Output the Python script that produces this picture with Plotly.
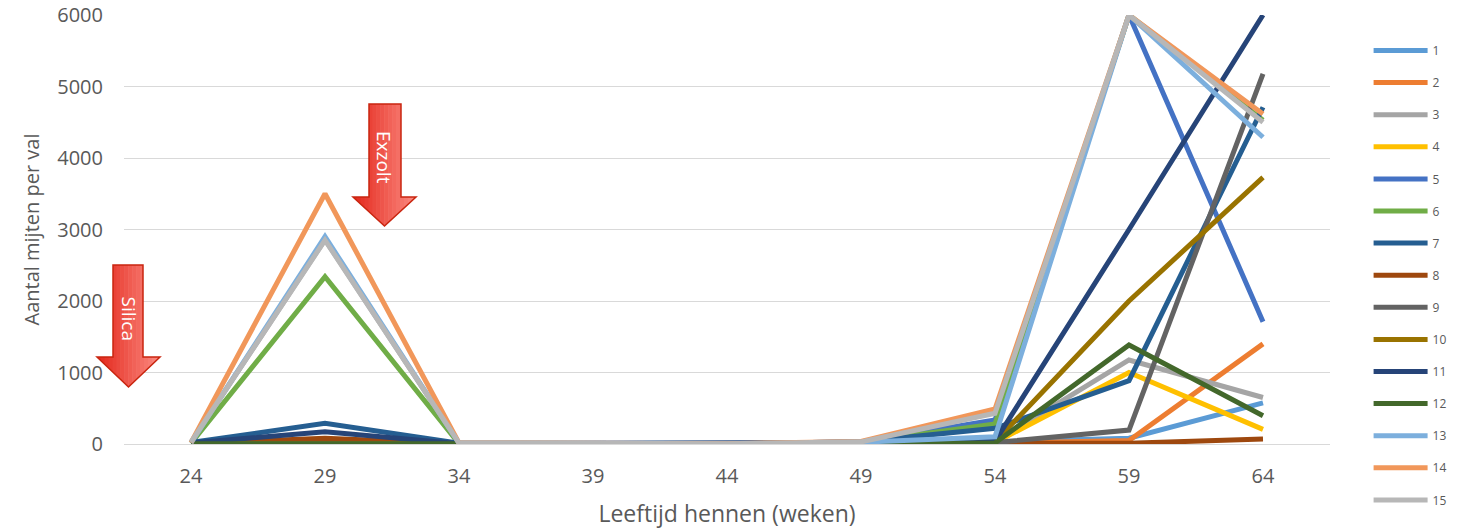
import plotly.graph_objects as go

# Leeftijd van de hennen (weken) op de x-as
weeks = ["24", "29", "34", "39", "44", "49", "54", "59", "64"]

# Aantal mijten per val, per val (reeks 1..15)
s1 = [10, 20, 5, 5, 5, 10, 30, 80, 575]
s2 = [5, 40, 5, 5, 5, 5, 10, 50, 1400]
s3 = [20, 2860, 10, 5, 5, 20, 30, 1175, 650]
s4 = [5, 10, 5, 5, 5, 10, 20, 1000, 205]
s5 = [10, 30, 5, 5, 5, 30, 335, 6000, 1710]
s6 = [10, 2340, 5, 5, 5, 25, 280, 6000, 4530]
s7 = [20, 290, 10, 5, 5, 30, 220, 885, 4710]
s8 = [5, 80, 5, 5, 5, 5, 10, 10, 70]
s9 = [5, 10, 5, 5, 5, 10, 20, 195, 5175]
s10 = [5, 10, 5, 5, 5, 10, 30, 2000, 3730]
s11 = [15, 170, 5, 5, 5, 20, 40, 3000, 6000]
s12 = [5, 10, 5, 5, 5, 10, 15, 1385, 395]
s13 = [15, 2900, 10, 5, 5, 25, 100, 6000, 4290]
s14 = [20, 3500, 15, 5, 5, 35, 490, 6000, 4615]
s15 = [25, 2850, 15, 5, 5, 30, 430, 6000, 4500]

series_names = [str(i) for i in range(1, 16)]
series_values = [s1, s2, s3, s4, s5, s6, s7, s8, s9, s10, s11, s12, s13, s14, s15]
colors = ["#5B9BD5", "#ED7D31", "#A5A5A5", "#FFC000", "#4472C4", "#70AD47",
          "#255E91", "#9E480E", "#636363", "#997300", "#264478", "#43682B",
          "#7CAFDD", "#F1975A", "#B7B7B7"]

# Behandelingen (pijl-annotaties)
treatments = ["Silica", "Exzolt"]

W, H = 1468, 531
PL, PR, PT, PB = 124, 1330, 15, 444  # plot area in pixels

fig = go.Figure()
for name, vals, col in zip(series_names, series_values, colors):
    fig.add_trace(go.Scatter(
        x=weeks, y=vals, name=name, mode="lines",
        line=dict(color=col, width=5),
        legendgroup=name,
    ))


def to_paper(x, y):
    return (x - PL) / (PR - PL), (PB - y) / (PB - PT)


def clip_slab(poly, xa, xb):
    """Clip a polygon to the vertical slab xa <= x <= xb."""
    def clip(pts, keep, xc):
        out = []
        n = len(pts)
        for i in range(n):
            p, q = pts[i], pts[(i + 1) % n]
            pin, qin = keep(p[0]), keep(q[0])
            if pin:
                out.append(p)
            if pin != qin:
                t = (xc - p[0]) / (q[0] - p[0])
                out.append((xc, p[1] + t * (q[1] - p[1])))
        return out
    pts = clip(poly, lambda x: x >= xa, xa)
    if pts:
        pts = clip(pts, lambda x: x <= xb, xb)
    return pts


def lerp_color(c0, c1, t):
    a = [int(c0[i:i + 2], 16) for i in (1, 3, 5)]
    b = [int(c1[i:i + 2], 16) for i in (1, 3, 5)]
    return "rgb(%d,%d,%d)" % tuple(round(a[k] + (b[k] - a[k]) * t) for k in range(3))


def path_of(pts):
    pp = [to_paper(x, y) for x, y in pts]
    return "M " + " L ".join("%.5f,%.5f" % p for p in pp) + " Z"


def add_arrow(bx0, bx1, top, neck, hx0, hx1, tip, label):
    cx = (hx0 + hx1) / 2
    poly = [(bx0, top), (bx1, top), (bx1, neck), (hx1, neck), (cx, tip),
            (hx0, neck), (bx0, neck)]
    n = 16
    for i in range(n):
        xa = hx0 + (hx1 - hx0) * i / n
        xb = hx0 + (hx1 - hx0) * (i + 1) / n
        piece = clip_slab(poly, xa - 0.3, xb + 0.3)
        if len(piece) < 3:
            continue
        c = lerp_color("#E3261A", "#FB8B82", (i + 0.5) / n)
        fig.add_shape(type="path", path=path_of(piece), xref="paper", yref="paper",
                      fillcolor=c, line=dict(width=0), layer="above")
    fig.add_shape(type="path", path=path_of(poly), xref="paper", yref="paper",
                  fillcolor="rgba(0,0,0,0)", line=dict(color="#C9250F", width=1.5),
                  layer="above")
    tx, ty = to_paper(cx, (top + neck) / 2 + 7)
    fig.add_annotation(x=tx, y=ty, xref="paper", yref="paper", text=label,
                       textangle=90, showarrow=False, xanchor="center", yanchor="middle",
                       font=dict(family="Open Sans", size=19, color="white"))


add_arrow(113, 143, 265, 357, 97, 160, 387, treatments[0])
add_arrow(369, 401, 104, 197, 353, 416, 226, treatments[1])

fig.update_layout(
    width=W, height=H,
    margin=dict(l=PL, r=W - PR, t=PT, b=H - PB, autoexpand=False),
    paper_bgcolor="white", plot_bgcolor="white",
    font=dict(family="Open Sans", color="#595959"),
    showlegend=True,
    legend=dict(
        x=1.032, xanchor="left", y=(PB - 36) / (PB - PT), yanchor="top",
        font=dict(size=12, color="#595959"),
        tracegroupgap=13.1, itemwidth=54, bgcolor="rgba(0,0,0,0)",
        maxheight=525,
    ),
    xaxis=dict(
        type="category", range=[-0.5, 8.5], showgrid=False, showline=True,
        linecolor="#D9D9D9", linewidth=1, ticks="", ticklabelstandoff=14,
        tickfont=dict(size=20, color="#595959"), automargin=False,
        title=dict(text="Leeftijd hennen (weken)", font=dict(size=23, color="#595959"),
                   standoff=17),
        fixedrange=True,
    ),
    yaxis=dict(
        range=[0, 6000], dtick=1000, showgrid=True, gridcolor="#D9D9D9", gridwidth=1.3,
        zeroline=False, showline=False, ticks="", ticklabelstandoff=20,
        tickfont=dict(size=20, color="#595959"), automargin=False,
        title=dict(text="Aantal mijten per val", font=dict(size=20, color="#595959"),
                   standoff=12),
        fixedrange=True,
    ),
)

fig.write_html("out.html")
